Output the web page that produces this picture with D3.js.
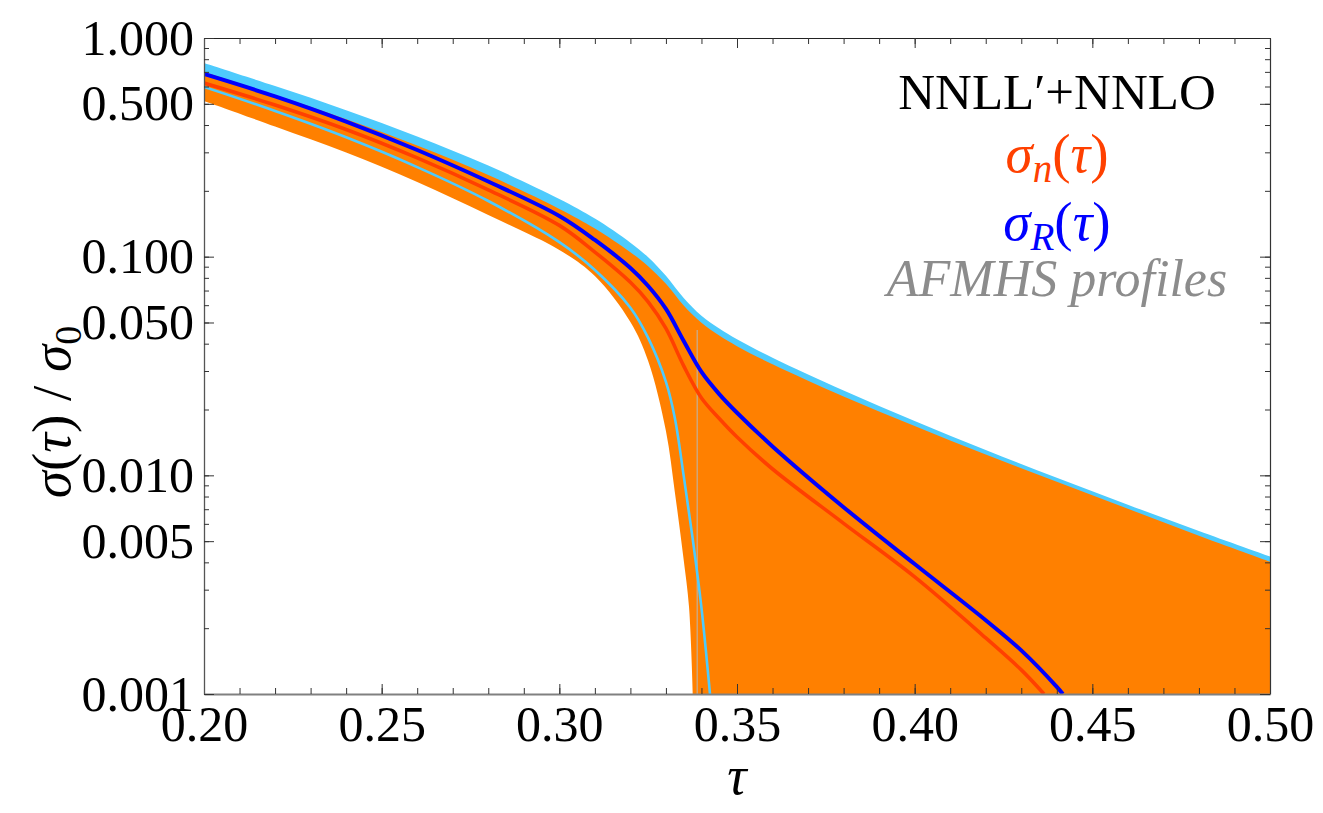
<!DOCTYPE html>
<html>
<head>
<meta charset="utf-8">
<script src="https://cdn.jsdelivr.net/npm/d3@7"></script>
<style>
  body { margin: 0; background: #fff; }
  svg { display: block; }
  text { font-family: "Liberation Serif", "Times New Roman", serif; }
</style>
</head>
<body>
<svg id="chart" width="1323" height="813"></svg>
<script>
// ---- axis ticks ----
const xTicks = [0.20, 0.25, 0.30, 0.35, 0.40, 0.45, 0.50];
const xTickLabels = ["0.20", "0.25", "0.30", "0.35", "0.40", "0.45", "0.50"];
const yTicks = [1, 0.5, 0.1, 0.05, 0.01, 0.005, 0.001];
const yTickLabels = ["1.000", "0.500", "0.100", "0.050", "0.010", "0.005", "0.001"];

// ---- curves: [tau, sigma/sigma0] ----
// AFMHS profile band, upper edge
const afmhsUpper = [
  [0.20, 0.7686], [0.22, 0.6027], [0.24, 0.4675], [0.26, 0.3543], [0.28, 0.2609],
  [0.30, 0.1836], [0.31, 0.1493], [0.32, 0.1159], [0.325, 0.09937], [0.33, 0.08173],
  [0.335, 0.06465], [0.34, 0.05362], [0.345, 0.04690], [0.35, 0.04191], [0.36, 0.03448],
  [0.38, 0.02444], [0.40, 0.01773], [0.42, 0.01305], [0.44, 0.00975], [0.46, 0.00734],
  [0.48, 0.00556], [0.50, 0.00425]
];
// AFMHS profile band, lower edge
const afmhsLower = [
  [0.20, 0.5970], [0.22, 0.4636], [0.24, 0.3515], [0.26, 0.2568], [0.28, 0.1797],
  [0.30, 0.1165], [0.31, 0.08695], [0.32, 0.05841], [0.325, 0.04249], [0.33, 0.02674],
  [0.3325, 0.01830], [0.335, 0.00994], [0.3375, 0.00517], [0.34, 0.002475], [0.3424, 0.001]
];
// NNLL'+NNLO uncertainty band, upper edge
const bandUpper = [
  [0.20, 0.6993], [0.22, 0.5481], [0.24, 0.4252], [0.26, 0.3225], [0.28, 0.2361],
  [0.30, 0.1653], [0.31, 0.1344], [0.32, 0.1048], [0.325, 0.09038], [0.33, 0.07509],
  [0.335, 0.05976], [0.34, 0.04981], [0.345, 0.04356], [0.35, 0.03895], [0.36, 0.03221],
  [0.38, 0.02295], [0.40, 0.01682], [0.42, 0.01245], [0.44, 0.00935], [0.46, 0.00704],
  [0.48, 0.00530], [0.50, 0.00403]
];
// NNLL'+NNLO uncertainty band, lower edge
const bandLower = [
  [0.20, 0.5152], [0.22, 0.3938], [0.24, 0.2995], [0.26, 0.2196], [0.28, 0.1551],
  [0.30, 0.1073], [0.31, 0.08160], [0.32, 0.05029], [0.325, 0.03335], [0.33, 0.01596],
  [0.3325, 0.00840], [0.335, 0.00410], [0.3365, 0.002502], [0.3376, 0.001]
];
// sigma_n(tau)
const sigmaN = [
  [0.20, 0.6225], [0.22, 0.4940], [0.24, 0.3816], [0.26, 0.2829], [0.28, 0.2020],
  [0.30, 0.1390], [0.31, 0.1050], [0.32, 0.07634], [0.325, 0.06214], [0.33, 0.04695],
  [0.335, 0.03167], [0.34, 0.02259], [0.345, 0.01820], [0.35, 0.01498], [0.36, 0.01069],
  [0.38, 0.00603], [0.40, 0.00343], [0.42, 0.001805], [0.43, 0.001289], [0.4364, 0.001]
];
// sigma_R(tau)
const sigmaR = [
  [0.20, 0.6844], [0.22, 0.5407], [0.24, 0.4147], [0.26, 0.3075], [0.28, 0.2206],
  [0.30, 0.1535], [0.31, 0.1192], [0.32, 0.08877], [0.325, 0.07345], [0.33, 0.05767],
  [0.335, 0.04116], [0.34, 0.02971], [0.345, 0.02353], [0.35, 0.01933], [0.36, 0.01356],
  [0.38, 0.00715], [0.40, 0.00393], [0.42, 0.002175], [0.43, 0.001583], [0.44, 0.001078],
  [0.4417, 0.001]
];
// thin seam of the band mesh
const seam = [[0.3388, 0.0462], [0.3388, 0.001]];

// ---- colours ----
const C_ORANGE = "#FF8000";
const C_CYAN = "#4ECBFD";
const C_RED = "#FF4000";
const C_BLUE = "#0000FF";
const C_GRAY = "#8C8C8C";

// ---- scales ----
const svg = d3.select("#chart");
const x = d3.scaleLinear().domain([0.2, 0.5]).range([204, 1270]);
const y = d3.scaleLog().domain([0.001, 1]).range([694, 38]);
const [x0, x1] = x.range();
const [yb, yt] = y.range();

svg.append("defs").append("clipPath").attr("id", "plotClip")
  .append("rect").attr("x", x0).attr("y", yt).attr("width", x1 - x0).attr("height", yb - yt);

const line = d3.line()
  .x(d => x(d[0])).y(d => y(d[1]))
  .curve(d3.curveCatmullRom.alpha(0.5));

// closed region between an upper and a lower edge; the lower edge leaves through the bottom
function bandPath(upper, lower) {
  const floorV = y.domain()[0];
  const lu = upper[upper.length - 1];
  const ll = lower[lower.length - 1];
  const back = line(lower.slice().reverse()).replace(/^M/, "L");
  return line(upper) +
    `L${x(lu[0])},${y(floorV)}L${x(ll[0])},${y(floorV)}` + back + "Z";
}

const plot = svg.append("g").attr("clip-path", "url(#plotClip)");

plot.append("path").attr("d", bandPath(afmhsUpper, afmhsLower)).attr("fill", C_CYAN);
plot.append("path").attr("d", bandPath(bandUpper, bandLower)).attr("fill", C_ORANGE);
plot.append("path").attr("d", d3.line().x(d => x(d[0])).y(d => y(d[1]))(seam))
  .attr("stroke", "#C4AE96").attr("stroke-width", 1.2).attr("fill", "none");
plot.append("path").attr("d", line(afmhsLower))
  .attr("stroke", C_CYAN).attr("stroke-width", 2.6).attr("fill", "none");
plot.append("path").attr("d", line(sigmaN))
  .attr("stroke", C_RED).attr("stroke-width", 3.6).attr("fill", "none");
plot.append("path").attr("d", line(sigmaR))
  .attr("stroke", C_BLUE).attr("stroke-width", 4).attr("fill", "none");

// ---- axes ----
function styleAxis(g, domainColor, domainWidth) {
  g.select(".domain").attr("stroke", domainColor).attr("stroke-width", domainWidth);
  g.selectAll(".tick line").attr("stroke", "#333").attr("stroke-width", 1);
  g.selectAll(".tick text").attr("fill", "#000")
    .style("font-family", '"Liberation Serif","Times New Roman",serif').style("font-size", "50px");
}

const xMinor = x.ticks(30);
const yMinor = y.ticks();

// bottom
svg.append("g").attr("transform", `translate(0,${yb})`)
  .call(d3.axisBottom(x).tickValues(xMinor).tickSize(-6).tickSizeOuter(0).tickFormat(""))
  .call(g => styleAxis(g, "#808080", 2.2));
const xb = svg.append("g").attr("transform", `translate(0,${yb})`)
  .call(d3.axisBottom(x).tickValues(xTicks).tickSize(-10).tickSizeOuter(0)
    .tickFormat((d, i) => xTickLabels[i]))
  .call(g => styleAxis(g, "none", 0));
xb.selectAll(".tick text").attr("dy", null).attr("y", 47);

// top
svg.append("g").attr("transform", `translate(0,${yt})`)
  .call(d3.axisTop(x).tickValues(xMinor).tickSize(-6).tickSizeOuter(0).tickFormat(""))
  .call(g => styleAxis(g, "#222", 1.2));
svg.append("g").attr("transform", `translate(0,${yt})`)
  .call(d3.axisTop(x).tickValues(xTicks).tickSize(-10).tickSizeOuter(0).tickFormat(""))
  .call(g => styleAxis(g, "none", 0));

// left
svg.append("g").attr("transform", `translate(${x0},0)`)
  .call(d3.axisLeft(y).tickValues(yMinor).tickSize(-5).tickSizeOuter(0).tickFormat(""))
  .call(g => styleAxis(g, "#555", 1.3));
svg.append("g").attr("transform", `translate(${x0},0)`)
  .call(d3.axisLeft(y).tickValues(yTicks).tickSize(-10).tickSizeOuter(0)
    .tickPadding(10).tickFormat((d, i) => yTickLabels[i]))
  .call(g => styleAxis(g, "none", 0));

// right
svg.append("g").attr("transform", `translate(${x1},0)`)
  .call(d3.axisRight(y).tickValues(yMinor).tickSize(-5).tickSizeOuter(0).tickFormat(""))
  .call(g => styleAxis(g, "#333", 1.2));
svg.append("g").attr("transform", `translate(${x1},0)`)
  .call(d3.axisRight(y).tickValues(yTicks).tickSize(-10).tickSizeOuter(0).tickFormat(""))
  .call(g => styleAxis(g, "none", 0));

// ---- axis titles ----
svg.append("text").attr("x", (x0 + x1) / 2).attr("y", 794)
  .attr("text-anchor", "middle").style("font-size", "54px").style("font-style", "italic")
  .text("τ");

const yTitle = svg.append("text")
  .attr("transform", "translate(70,412) rotate(-90)")
  .attr("text-anchor", "middle").style("font-size", "55px");
yTitle.append("tspan").style("font-style", "italic").text("σ");
yTitle.append("tspan").text("(");
yTitle.append("tspan").style("font-style", "italic").text("τ");
yTitle.append("tspan").text(") / ");
yTitle.append("tspan").style("font-style", "italic").text("σ");
yTitle.append("tspan").attr("dy", 11).style("font-size", "38px").text("0");

// ---- legend ----
const lx = 1057;
svg.append("text").attr("x", lx).attr("y", 109).attr("text-anchor", "middle")
  .style("font-size", "51px").attr("fill", "#000").text("NNLL\u2032+NNLO");

function sigmaLabel(yPos, sub, color) {
  const t = svg.append("text").attr("x", lx).attr("y", yPos).attr("text-anchor", "middle")
    .style("font-size", "55px").attr("fill", color);
  t.append("tspan").style("font-style", "italic").text("σ");
  t.append("tspan").attr("dy", 10).style("font-size", "39px").style("font-style", "italic").text(sub);
  t.append("tspan").attr("dy", -10).text("(");
  t.append("tspan").style("font-style", "italic").text("τ");
  t.append("tspan").text(")");
}
sigmaLabel(172, "n", C_RED);
sigmaLabel(240, "R", C_BLUE);

svg.append("text").attr("x", lx).attr("y", 296).attr("text-anchor", "middle")
  .style("font-size", "52px").style("font-style", "italic").attr("fill", C_GRAY)
  .text("AFMHS profiles");
</script>
</body>
</html>
